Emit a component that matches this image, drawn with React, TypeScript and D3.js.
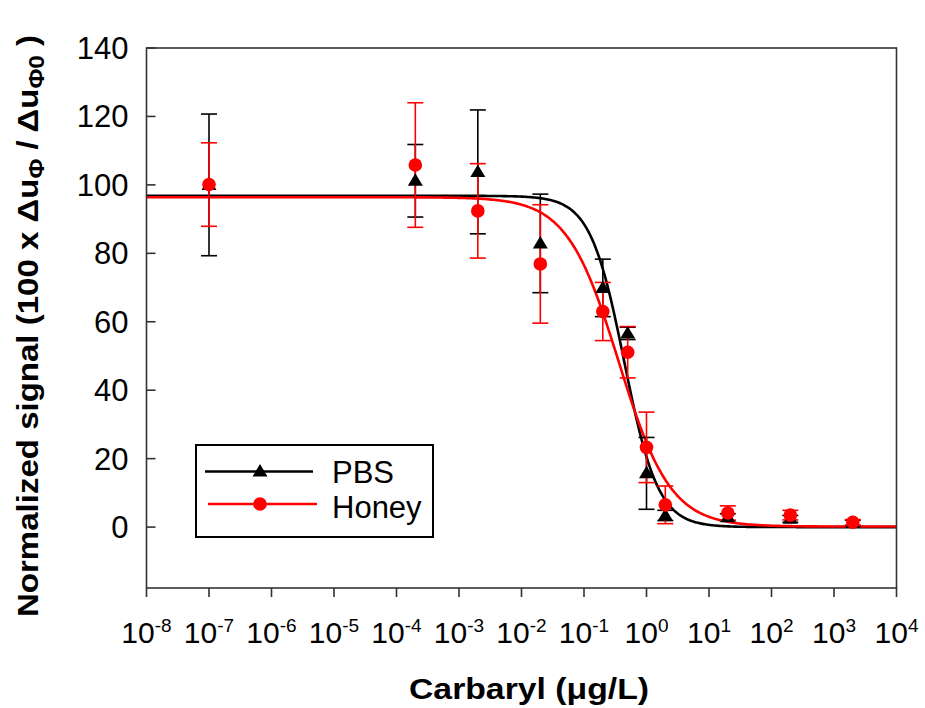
import React from 'react';
import * as d3 from 'd3';

// ---- data ----
const concentrations = [1e-7, 2e-4, 2e-3, 2e-2, 0.2, 0.5, 1, 2, 20, 200, 2000];
const pbsMean = [100, 101.2, 103.8, 82.9, 69.9, 56.6, 15.7, 3.4, 2.9, 2.4, 1.2];
const pbsErr = [20.7, 10.6, 18.1, 14.4, 8.4, 1.8, 10.5, 1.5, 1.0, 1.0, 0.8];
const honeyMean = [100.1, 105.8, 92.4, 76.9, 63.0, 51.1, 23.3, 6.5, 4.1, 3.5, 1.4];
const honeyErr = [12.2, 18.2, 13.8, 17.3, 8.5, 7.5, 10.3, 5.5, 2.1, 1.4, 0.8];
// four-parameter logistic fits: [top, bottom, IC50, hill slope]
const pbsFit = [96.8, 0.0, 0.44, 1.6];
const honeyFit = [96.4, 0.15, 0.36, 1.05];

const xTickExponents = [-8, -7, -6, -5, -4, -3, -2, -1, 0, 1, 2, 3, 4];
const yTicks = [0, 20, 40, 60, 80, 100, 120, 140];
const seriesNames = ['PBS', 'Honey'];

const W = 925;
const H = 708;
const left = 146.5;
const right = 896.5;
const top = 48;
const bottom = 588;

const x = d3.scaleLog().domain([1e-8, 1e4]).range([left, right]);
const y = d3.scaleLinear().domain([-17.8, 140]).range([bottom, top]);

function logistic(p: number[], c: number) {
  const [t, b, ic, h] = p;
  return b + (t - b) / (1 + Math.pow(c / ic, h));
}

const sampleExps = d3.range(-8, 4.0001, 0.02);
function curvePath(p: number[]) {
  const line = d3
    .line<number>()
    .x((e) => x(Math.pow(10, e)))
    .y((e) => y(logistic(p, Math.pow(10, e))));
  return line(sampleExps) || '';
}

function triPath(cx: number, cy: number) {
  return `M${cx},${cy - 7.5} L${cx + 7.5},${cy + 5} L${cx - 7.5},${cy + 5} Z`;
}

function ErrorBars({ means, errs, color }: { means: number[]; errs: number[]; color: string }) {
  return (
    <g stroke={color} strokeWidth={1.6} fill="none">
      {concentrations.map((c, i) => {
        const cx = x(c);
        const y1 = y(means[i] + errs[i]);
        const y2 = y(means[i] - errs[i]);
        return (
          <g key={i}>
            <line x1={cx} x2={cx} y1={y1} y2={y2} />
            <line x1={cx - 8} x2={cx + 8} y1={y1} y2={y1} />
            <line x1={cx - 8} x2={cx + 8} y1={y2} y2={y2} />
          </g>
        );
      })}
    </g>
  );
}

export default function App() {
  const font = "'Liberation Sans', Arial, sans-serif";
  return (
    <svg
      width={W}
      height={H}
      style={{ position: 'absolute', left: 0, top: 0, background: '#fff' }}
      fontFamily={font}
    >
      <rect x={0} y={0} width={W} height={H} fill="#fff" />

      {/* fitted curves */}
      <path d={curvePath(pbsFit)} fill="none" stroke="#000" strokeWidth={2.6} />
      <path d={curvePath(honeyFit)} fill="none" stroke="#ff0000" strokeWidth={2.6} />

      {/* error bars */}
      <ErrorBars means={pbsMean} errs={pbsErr} color="#000" />
      <ErrorBars means={honeyMean} errs={honeyErr} color="#ff0000" />

      {/* markers */}
      {concentrations.map((c, i) => (
        <path key={'t' + i} d={triPath(x(c), y(pbsMean[i]))} fill="#000" />
      ))}
      {concentrations.map((c, i) => (
        <circle key={'c' + i} cx={x(c)} cy={y(honeyMean[i])} r={6.8} fill="#ff0000" />
      ))}

      {/* frame */}
      <rect x={left} y={top} width={right - left} height={bottom - top} fill="none" stroke="#333" strokeWidth={1.6} />

      {/* y ticks */}
      {yTicks.map((t) => (
        <g key={'y' + t}>
          <line x1={left} x2={left + 9} y1={y(t)} y2={y(t)} stroke="#333" strokeWidth={1.6} />
          <text x={128.5} y={y(t) + 11} textAnchor="end" fontSize={31} fill="#000">
            {t}
          </text>
        </g>
      ))}

      {/* x ticks */}
      {xTickExponents.map((e) => {
        const cx = x(Math.pow(10, e));
        return (
          <g key={'x' + e}>
            <line x1={cx} x2={cx} y1={bottom} y2={bottom + 9} stroke="#333" strokeWidth={1.6} />
            <text x={cx} y={642.5} textAnchor="middle" fill="#000">
              <tspan fontSize={30}>10</tspan>
              <tspan fontSize={19} dy={-11}>
                {String(e)}
              </tspan>
            </text>
          </g>
        );
      })}

      {/* axis titles */}
      <text
        x={529}
        y={699}
        textAnchor="middle"
        fontWeight="bold"
        fontSize={29}
        textLength={240}
        lengthAdjust="spacingAndGlyphs"
        fill="#000"
      >
        Carbaryl (μg/L)
      </text>
      <text
        transform="translate(38,326) rotate(-90)"
        textAnchor="middle"
        fontWeight="bold"
        fontSize={30}
        textLength={582}
        lengthAdjust="spacingAndGlyphs"
        fill="#000"
      >
        Normalized signal (100 x Δu
        <tspan fontSize={22} dy={6}>Φ</tspan>
        <tspan dy={-6}> / Δu</tspan>
        <tspan fontSize={22} dy={6}>Φ0</tspan>
        <tspan dy={-6}> )</tspan>
      </text>

      {/* legend */}
      <g>
        <rect x={196} y={445} width={237} height={92} fill="#fff" stroke="#000" strokeWidth={2} />
        <line x1={205} x2={313} y1={471.5} y2={471.5} stroke="#000" strokeWidth={2.6} />
        <path d={triPath(260, 471.5)} fill="#000" />
        <text x={332} y={483} fontSize={31} fill="#000">
          {seriesNames[0]}
        </text>
        <line x1={208} x2={317} y1={504} y2={504} stroke="#ff0000" strokeWidth={2.6} />
        <circle cx={260} cy={504} r={6.8} fill="#ff0000" />
        <text x={332} y={518} fontSize={31} fill="#000">
          {seriesNames[1]}
        </text>
      </g>
    </svg>
  );
}
